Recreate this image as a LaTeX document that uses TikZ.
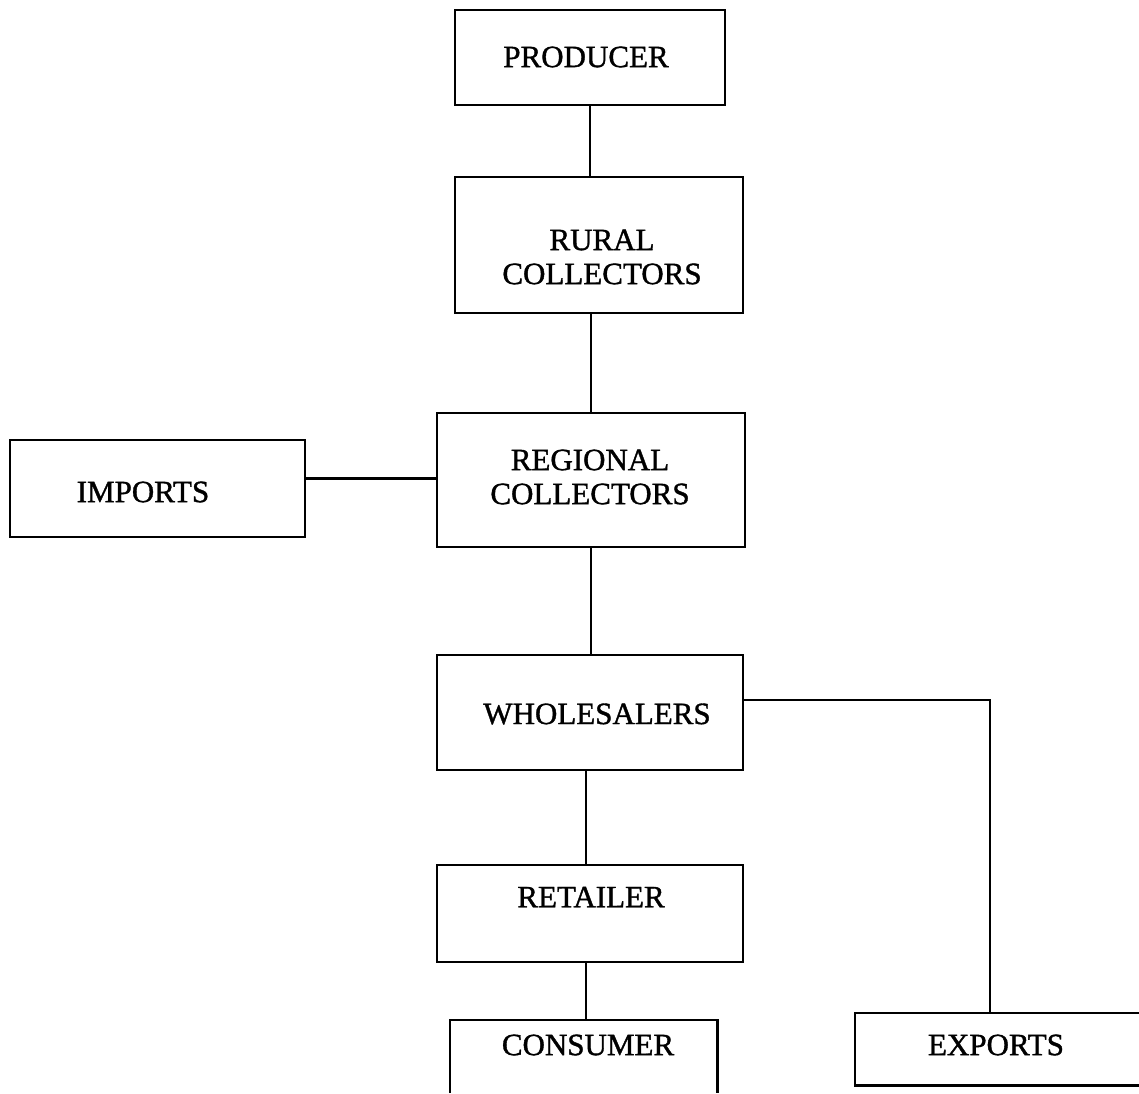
\documentclass[tikz,border=0pt]{standalone}
\usepackage{fontspec}
\setmainfont{Liberation Serif}
\newfontfamily\scanfont[FakeBold=1.2]{Liberation Serif}
\begin{document}
\begin{tikzpicture}[x=1pt,y=-1pt,
  box/.style={draw, line width=2.6pt, inner sep=0pt},
  openbox/.style={inner sep=0pt},
  lbl/.style={font=\scanfont\fontsize{31}{34}\selectfont, align=center, inner sep=0pt},
  conn/.style={line width=2.2pt}]
\useasboundingbox (0,0) rectangle (1139,1093);
% boxes
\node[box, minimum width=270pt, minimum height=95pt] (prod) at (590,57.5) {};
\node[box, minimum width=288pt, minimum height=136pt] (rural) at (599,245) {};
\node[box, minimum width=308pt, minimum height=134pt] (regional) at (591,480) {};
\node[box, minimum width=295pt, minimum height=97pt] (imports) at (157.5,488.5) {};
\node[box, minimum width=306pt, minimum height=115pt] (whole) at (590,712.5) {};
\node[box, minimum width=306pt, minimum height=97pt] (retail) at (590,913.5) {};
\node[openbox, minimum width=267pt, minimum height=73pt] (consumer) at (583.5,1056.5) {};
\node[openbox, minimum width=284pt, minimum height=72pt] (exports) at (997,1049) {};
\draw[line width=2.6pt] (consumer.south west) -- (consumer.north west) -- (consumer.north east) -- (consumer.south east);
\draw[line width=2.6pt] (exports.north east) -- (exports.north west) -- (exports.south west) -- (exports.south east);
% labels
\node[lbl] (tprod) at (586,57) {PRODUCER};
\node[lbl] (trural) at (602,257) {RURAL\\COLLECTORS};
\node[lbl] (tregional) at (590,477) {REGIONAL\\COLLECTORS};
\node[lbl] (timports) at (143,492) {IMPORTS};
\node[lbl] (twhole) at (597,714) {WHOLESALERS};
\node[lbl] (tretail) at (591,897) {RETAILER};
\node[lbl] (tconsumer) at (588,1045) {CONSUMER};
\node[lbl] (texports) at (996,1045) {EXPORTS};
% connectors
\draw[conn] (prod.south) -- (prod.south |- rural.north);
\draw[conn] (regional.north) -- (regional.north |- rural.south);
\draw[conn] ([yshift=10pt]imports.east) -- ([yshift=10pt]imports.east -| regional.west);
\draw[conn] (regional.south) -- (regional.south |- whole.north);
\draw[conn] ([yshift=12.5pt]whole.east) -| ([xshift=-7pt]exports.north);
\draw[conn] ([xshift=-4pt]whole.south) -- ([xshift=-4pt]retail.north);
\draw[conn] ([xshift=-4pt]retail.south) -- ([xshift=-4pt]retail.south |- consumer.north);
\end{tikzpicture}
\end{document}
